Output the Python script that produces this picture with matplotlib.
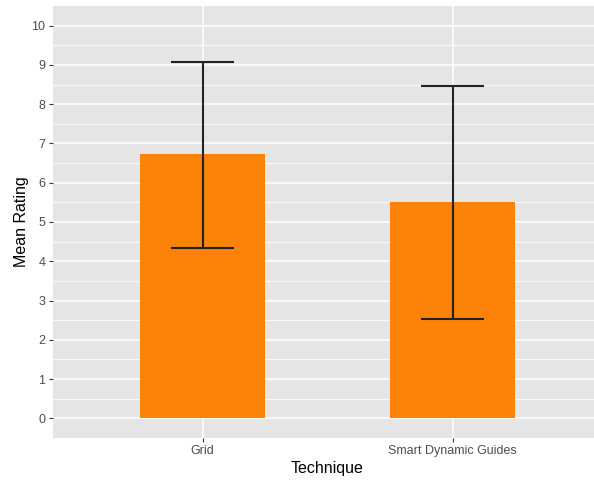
import matplotlib
matplotlib.use("Agg")
import matplotlib.pyplot as plt

# ---- data ----
techniques = ["Grid", "Smart Dynamic Guides"]
mean_rating = [6.72, 5.50]
err_low = [4.33, 2.52]
err_high = [9.08, 8.47]
y_ticks = list(range(0, 11))

plt.rcParams["font.family"] = ["Liberation Sans", "DejaVu Sans"]

fig = plt.figure(figsize=(5.94, 4.8), dpi=100)
ax = fig.add_axes([52.5 / 594, 42 / 480, 550 / 594, 432 / 480])
ax.set_facecolor("#E5E5E5")

x = [1, 2]
ax.bar(x, mean_rating, width=0.5, color="#FD8208", zorder=2)
ax.vlines(x, err_low, err_high, color="#222222", lw=1.5, zorder=3)
for xi, lo, hi in zip(x, err_low, err_high):
    ax.hlines([lo, hi], xi - 0.125, xi + 0.125, color="#222222", lw=1.5, zorder=3)

ax.set_xlim(0.4, 2.6)
ax.set_ylim(-0.5, 10.5)
ax.set_xticks(x)
ax.set_xticklabels(techniques)
ax.set_yticks(y_ticks)
ax.set_yticks([v + 0.5 for v in y_ticks[:-1]], minor=True)

ax.grid(which="major", color="white", lw=1.1, zorder=0)
ax.grid(which="minor", axis="y", color="white", lw=0.55, zorder=0)
ax.set_axisbelow(True)
for s in ax.spines.values():
    s.set_visible(False)

ax.tick_params(axis="both", which="major", length=3, width=0.8, color="#333333",
               labelcolor="#4D4D4D", labelsize=9, pad=2)
ax.tick_params(axis="both", which="minor", length=0)

ax.set_xlabel("Technique", fontsize=11.5, color="black", labelpad=3)
ax.set_ylabel("Mean Rating", fontsize=11.5, color="black", labelpad=1.5)

fig.savefig("out.png", dpi=100)
